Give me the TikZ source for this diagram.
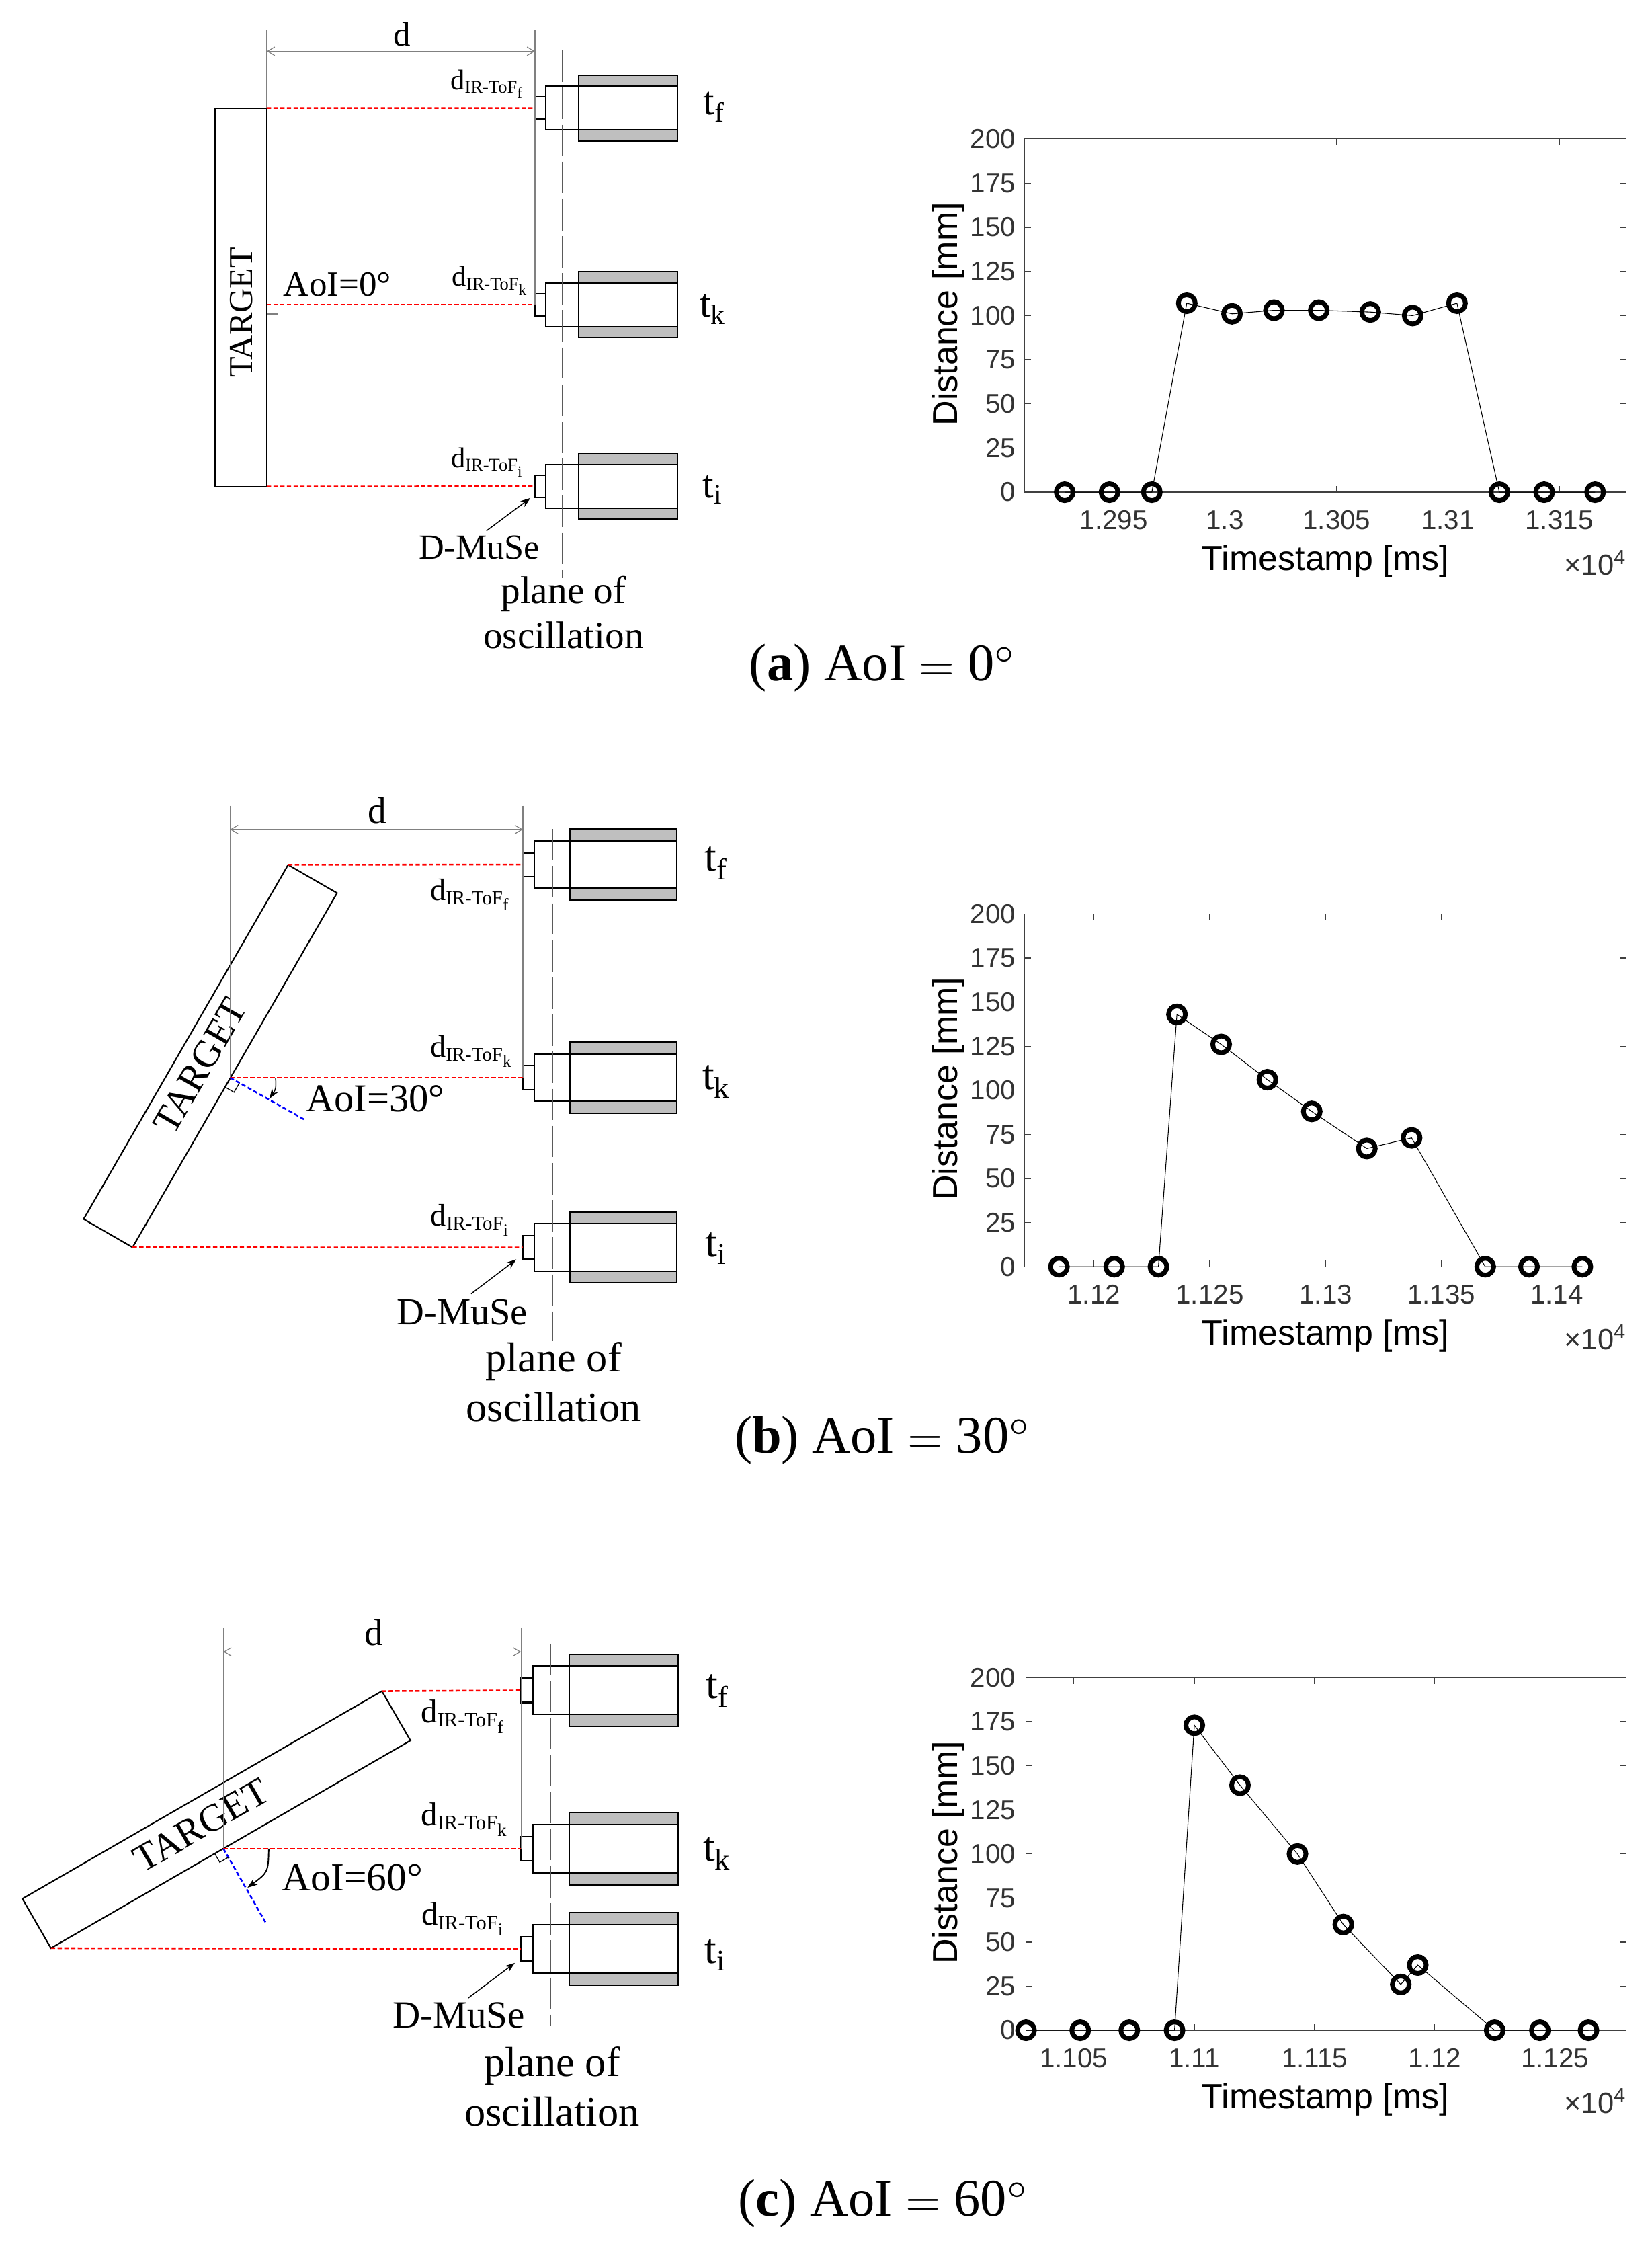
\documentclass[tikz,border=0pt]{standalone}
\usepackage{fontspec}
\setmainfont{Liberation Serif}
\newfontfamily\plotfont{Liberation Sans}
\usetikzlibrary{positioning, arrows.meta, plotmarks}
\definecolor{CaseGray}{HTML}{BFBFBF}
\definecolor{DimGray}{HTML}{808080}
\definecolor{AxisGray}{HTML}{404040}
\newcommand{\ptfont}[1]{\fontsize{#1}{#1}\selectfont}
\newcommand{\tof}[1]{d\raisebox{-2.5pt}{\ptfont{12.5}IR-ToF}\raisebox{-6.5pt}{\ptfont{11}#1}}
\newcommand{\capeq}{\scalebox{3.2}{\normalsize$=$}}
\newcommand{\capdeg}{\scalebox{3.4}{\normalsize$^\circ$}}
% one sensor: name, x, y, size
\newcommand{\sensor}[4]{%
    \node[sensorbox, minimum width={7.6pt*#4}, minimum height={15.4pt*#4}] (#1Tip) at (#2,#3) {};
    \node[sensorbox, minimum width={23.1pt*#4}, minimum height={30.8pt*#4}] (#1Mid) at (#1Tip.east) {};
    \node[sensorbox, fill=CaseGray, minimum width={69.3pt*#4}, minimum height={46pt*#4}] (#1Case) at (#1Mid.east) {};
    \node[sensorbox, fill=white, minimum width={69.3pt*#4}, minimum height={30.8pt*#4}] (#1Bore) at (#1Case.west) {};
}
% one plot: name, top, bottom, left, x ticks, data
\newcommand{\distplot}[6]{%
    \draw[axisline] (#4,#2) rectangle (1140,#3);
    \foreach \yv in {0,25,...,200} {
        \pgfmathsetmacro{\yy}{#3-(#3-#2)/200*\yv}
        \draw[axisline] (#4,\yy) -- ++(4.5,0);
        \draw[axisline] (1140,\yy) -- ++(-4.5,0);
        \node[ticktext, anchor=east] (#1y\yv) at (712,\yy) {\yv};
    }
    \foreach \xv/\xlab in {#5} {
        \draw[axisline] (\xv,#3) -- ++(0,-4.5);
        \draw[axisline] (\xv,#2) -- ++(0,4.5);
        \node[ticktext] (#1x\xv) at (\xv,{#3+19.6}) {\xlab};
    }
    \node[axistext, rotate=90] (#1ylabel) at (665,{(#2+#3)/2-1}) {Distance [mm]};
    \node[axistext] (#1xlabel) at (929,{#3+48.5}) {Timestamp [ms]};
    \node[ticktext, anchor=east, font=\plotfont\ptfont{20.5}] (#1power) at (1140,{#3+49.5}) {×10\textsuperscript{4}};
    \begin{scope}[shift={(0,#3)}, y={(0pt,{(#3-#2)/200*1pt})}]
        \draw[dataline] plot coordinates {#6};
    \end{scope}
}

\begin{document}
\begin{tikzpicture}[
        x=1pt, y=-1pt,
        sensorbox/.style={draw=black, line width=1pt, anchor=west, inner sep=0pt, outer sep=0pt},
        targetbox/.style={draw=black, line width=1pt, inner sep=0pt, outer sep=0pt},
        beam/.style={red, line width=1.2pt, dash pattern=on 3pt off 1.7pt},
        normal/.style={blue, line width=1.2pt, dash pattern=on 3pt off 1.7pt},
        extline/.style={DimGray, line width=0.6pt},
        dimline/.style={DimGray, line width=0.6pt, {Straight Barb[length=5pt,width=6pt]}-{Straight Barb[length=5pt,width=6pt]}},
        planeline/.style={DimGray!70!black, line width=0.7pt, dash pattern=on 22pt off 4pt},
        leader/.style={line width=0.7pt, -{Stealth[length=7pt,width=5pt]}},
        axisline/.style={AxisGray, line width=0.6pt},
        dataline/.style={black, line width=0.5pt, mark=o, mark size=5.9pt, mark options={line width=3.3pt, solid}},
        ticktext/.style={font=\plotfont\ptfont{19}, text=AxisGray!80!black, inner sep=0pt},
        axistext/.style={font=\plotfont\ptfont{24.5}, inner sep=0pt},
        lab/.style={inner sep=0pt}
    ]
    \useasboundingbox (0,0) rectangle (1158,1572.6);

    % Panel a
    \node[targetbox, minimum width=36pt, minimum height=265.3pt] (targetA) at (169,208.3) {};
    \node[lab, rotate=90, font=\ptfont{23.6}] (targetAtext) at (169,219) {TARGET};
    \sensor{af}{375}{75.7}{1}
    \sensor{ak}{375}{213.5}{1}
    \sensor{ai}{375}{340.8}{1}
    \coordinate (aHit) at (187,213.5);
    \coordinate (aTopL) at (187,21);
    \coordinate (aTopR) at (375,21);
    \coordinate (aDimL) at (187,36);
    \coordinate (aDimR) at (375,36);
    \draw[extline] (aTopL) -- (targetA.north east);
    \draw[extline] (aTopR) -- (akTip.west);
    \draw[dimline] (aDimL) -- (aDimR);
    \draw[beam] (targetA.north east) -- (afTip.west);
    \draw[beam] (aHit) -- (akTip.west);
    \draw[beam] (targetA.south east) -- (aiTip.west);
    \draw[extline] (187,220) -- (194.8,220) -- (194.8,213.5);
    \coordinate (aPlaneT) at (394.2,35.4);
    \coordinate (aPlaneB) at (394.2,405);
    \draw[planeline] (aPlaneT) -- (aPlaneB);
    \node[lab, font=\ptfont{24}] (dA) at (282,24) {d};
    \node[lab, font=\ptfont{20}] (dfA) at (341,59) {\tof{f}};
    \node[lab, font=\ptfont{20}] (dkA) at (343,197) {\tof{k}};
    \node[lab, font=\ptfont{20}] (diA) at (341,324) {\tof{i}};
    \node[lab, font=\ptfont{25}] (aoiA) at (236.5,199.5) {AoI=0°};
    \node[lab, font=\ptfont{28}] (tfA) at (500.5,75) {t\textsubscript{f}};
    \node[lab, font=\ptfont{28}] (tkA) at (499.5,217) {t\textsubscript{k}};
    \node[lab, font=\ptfont{28}] (tiA) at (499.5,343) {t\textsubscript{i}};
    \node[lab, font=\ptfont{24.6}] (museA) at (336,383.5) {D-MuSe};
    \node[lab, font=\ptfont{27}] (planeA) at (395,416) {plane of};
    \node[lab, font=\ptfont{27}] (oscA) at (395,445) {oscillation};
    \coordinate (aArrowS) at (341,372);
    \coordinate (aArrowE) at (371.8,349);
    \draw[leader] (aArrowS) -- (aArrowE);
    \node[lab, font=\ptfont{37}] (capA) at (619,468) {(\textbf{a}) AoI \capeq{} 0\capdeg};
    \distplot{A}{97.4}{344.9}{718}{780.7/1.295,858.6/1.3,937/1.305,1015/1.31,1093/1.315}
        {(746.3,0) (777.7,0) (807.4,0) (831.9,107) (863.6,101) (893,103) (924.4,103) (960.5,102) (990.2,100) (1021.3,107) (1051,0) (1082.4,0) (1118.1,0)}

    % Panel b
    \node[targetbox, rotate=60, minimum width=286.7pt, minimum height=39.6pt] (targetB) at (147.45,740.1) {};
    \node[lab, rotate=60, font=\ptfont{27}] (targetBtext) at (140.3,747) {TARGET};
    \sensor{bf}{366.5}{605.9}{1.08}
    \sensor{bk}{366.5}{755.2}{1.08}
    \sensor{bi}{366.5}{874.2}{1.08}
    \coordinate (bHit) at (161.3,755.2);
    \coordinate (bTopL) at (161.3,564.7);
    \coordinate (bTopR) at (366.5,564.7);
    \coordinate (bDimL) at (161.3,581.3);
    \coordinate (bDimR) at (366.5,581.3);
    \coordinate (bNormal) at (213,784.4);
    \draw[extline] (bTopL) -- (bHit);
    \draw[extline] (bTopR) -- (bkTip.west);
    \draw[dimline] (bDimL) -- (bDimR);
    \draw[beam] (targetB.north east) -- (bfTip.west);
    \draw[beam] (bHit) -- (bkTip.west);
    \draw[beam] (targetB.south west) -- (biTip.west);
    \draw[normal] (bHit) -- (bNormal);
    \draw[line width=0.6pt] (bHit) ++(6.5,3.75) -- ++(-3.75,6.5) -- ++(-6.5,-3.75);
    \coordinate (bArcS) at (193.2,755.2);
    \coordinate (bArcE) at (188.9,769.9);
    \draw[leader] (bArcS) .. controls (193.5,763) .. (bArcE);
    \coordinate (bPlaneT) at (387.5,581);
    \coordinate (bPlaneB) at (387.5,940);
    \draw[planeline] (bPlaneT) -- (bPlaneB);
    \node[lab, font=\ptfont{26}] (dB) at (264.5,568) {d};
    \node[lab, font=\ptfont{20}, scale=1.09] (dfB) at (329,627) {\tof{f}};
    \node[lab, font=\ptfont{20}, scale=1.09] (dkB) at (330,737) {\tof{k}};
    \node[lab, font=\ptfont{20}, scale=1.09] (diB) at (329,855) {\tof{i}};
    \node[lab, font=\ptfont{27.6}] (aoiB) at (263,770) {AoI=30°};
    \node[lab, font=\ptfont{30}] (tfB) at (502,605) {t\textsubscript{f}};
    \node[lab, font=\ptfont{30}] (tkB) at (502,758) {t\textsubscript{k}};
    \node[lab, font=\ptfont{30}] (tiB) at (502,875) {t\textsubscript{i}};
    \node[lab, font=\ptfont{26.6}] (museB) at (324,919.5) {D-MuSe};
    \node[lab, font=\ptfont{29.4}] (planeB) at (388,954) {plane of};
    \node[lab, font=\ptfont{29.4}] (oscB) at (388,986) {oscillation};
    \coordinate (bArrowS) at (330.2,906.7);
    \coordinate (bArrowE) at (361.9,882.6);
    \draw[leader] (bArrowS) -- (bArrowE);
    \node[lab, font=\ptfont{37}] (capB) at (619,1009.5) {(\textbf{b}) AoI \capeq{} 30\capdeg};
    \distplot{B}{640.4}{887.7}{718}{766.8/1.12,848/1.125,929.4/1.13,1010.4/1.135,1091.3/1.14}
        {(742.3,0) (781,0) (812,0) (825,143) (856,126) (888.4,106) (919.5,88) (958.1,67) (989.5,73) (1041.1,0) (1071.8,0) (1109.2,0)}

    % Panel c
    \node[targetbox, rotate=30, minimum width=291pt, minimum height=40pt] (targetC) at (151.7,1275.2) {};
    \node[lab, rotate=30, font=\ptfont{27}] (targetCtext) at (141,1279) {TARGET};
    \sensor{cf}{365.2}{1184.6}{1.1}
    \sensor{ck}{365.2}{1295.5}{1.1}
    \sensor{ci}{365.2}{1365.8}{1.1}
    \coordinate (cHit) at (156.6,1295.5);
    \coordinate (cTopL) at (156.6,1140.5);
    \coordinate (cTopR) at (365.2,1140.5);
    \coordinate (cDimL) at (156.6,1157.6);
    \coordinate (cDimR) at (365.2,1157.6);
    \coordinate (cNormal) at (186.7,1348.2);
    \draw[extline] (cTopL) -- (cHit);
    \draw[extline] (cTopR) -- (ckTip.west);
    \draw[dimline] (cDimL) -- (cDimR);
    \draw[beam] (targetC.north east) -- (cfTip.west);
    \draw[beam] (cHit) -- (ckTip.west);
    \draw[beam] (targetC.south west) -- (ciTip.west);
    \draw[normal] (cHit) -- (cNormal);
    \draw[line width=0.6pt] (cHit) ++(3.5,6.06) -- ++(-6.06,3.5) -- ++(-3.5,-6.06);
    \coordinate (cArcS) at (188.4,1295.5);
    \coordinate (cArcE) at (173.5,1322.9);
    \draw[leader, line width=0.9pt] (cArcS) .. controls (188,1312) .. (cArcE);
    \coordinate (cPlaneT) at (386,1151.8);
    \coordinate (cPlaneB) at (386,1420);
    \draw[planeline] (cPlaneT) -- (cPlaneB);
    \node[lab, font=\ptfont{26}] (dC) at (262,1144) {d};
    \node[lab, font=\ptfont{20}, scale=1.15] (dfC) at (324,1203) {\tof{f}};
    \node[lab, font=\ptfont{20}, scale=1.15] (dkC) at (325,1275) {\tof{k}};
    \node[lab, font=\ptfont{20}, scale=1.15] (diC) at (324,1345) {\tof{i}};
    \node[lab, font=\ptfont{28}] (aoiC) at (247,1316) {AoI=60°};
    \node[lab, font=\ptfont{30}] (tfC) at (503,1185) {t\textsubscript{f}};
    \node[lab, font=\ptfont{30}] (tkC) at (502.5,1299) {t\textsubscript{k}};
    \node[lab, font=\ptfont{30}] (tiC) at (501.5,1370) {t\textsubscript{i}};
    \node[lab, font=\ptfont{26.9}] (museC) at (321.5,1412.5) {D-MuSe};
    \node[lab, font=\ptfont{29.4}] (planeC) at (387,1448) {plane of};
    \node[lab, font=\ptfont{29.4}] (oscC) at (387,1480) {oscillation};
    \coordinate (cArrowS) at (328.2,1400.2);
    \coordinate (cArrowE) at (360.9,1375.6);
    \draw[leader] (cArrowS) -- (cArrowE);
    \node[lab, font=\ptfont{37}] (capC) at (619.5,1544) {(\textbf{c}) AoI \capeq{} 60\capdeg};
    \distplot{C}{1175.7}{1422.8}{719.2}{752.6/1.105,837.2/1.11,921.5/1.115,1005.7/1.12,1090/1.125}
        {(719.2,0) (757.2,0) (791.6,0) (823.3,0) (837.2,173) (869.2,139) (909.5,100) (941.6,60) (981.9,26) (993.8,37) (1047.7,0) (1079.4,0) (1113.5,0)}
\end{tikzpicture}
\end{document}
